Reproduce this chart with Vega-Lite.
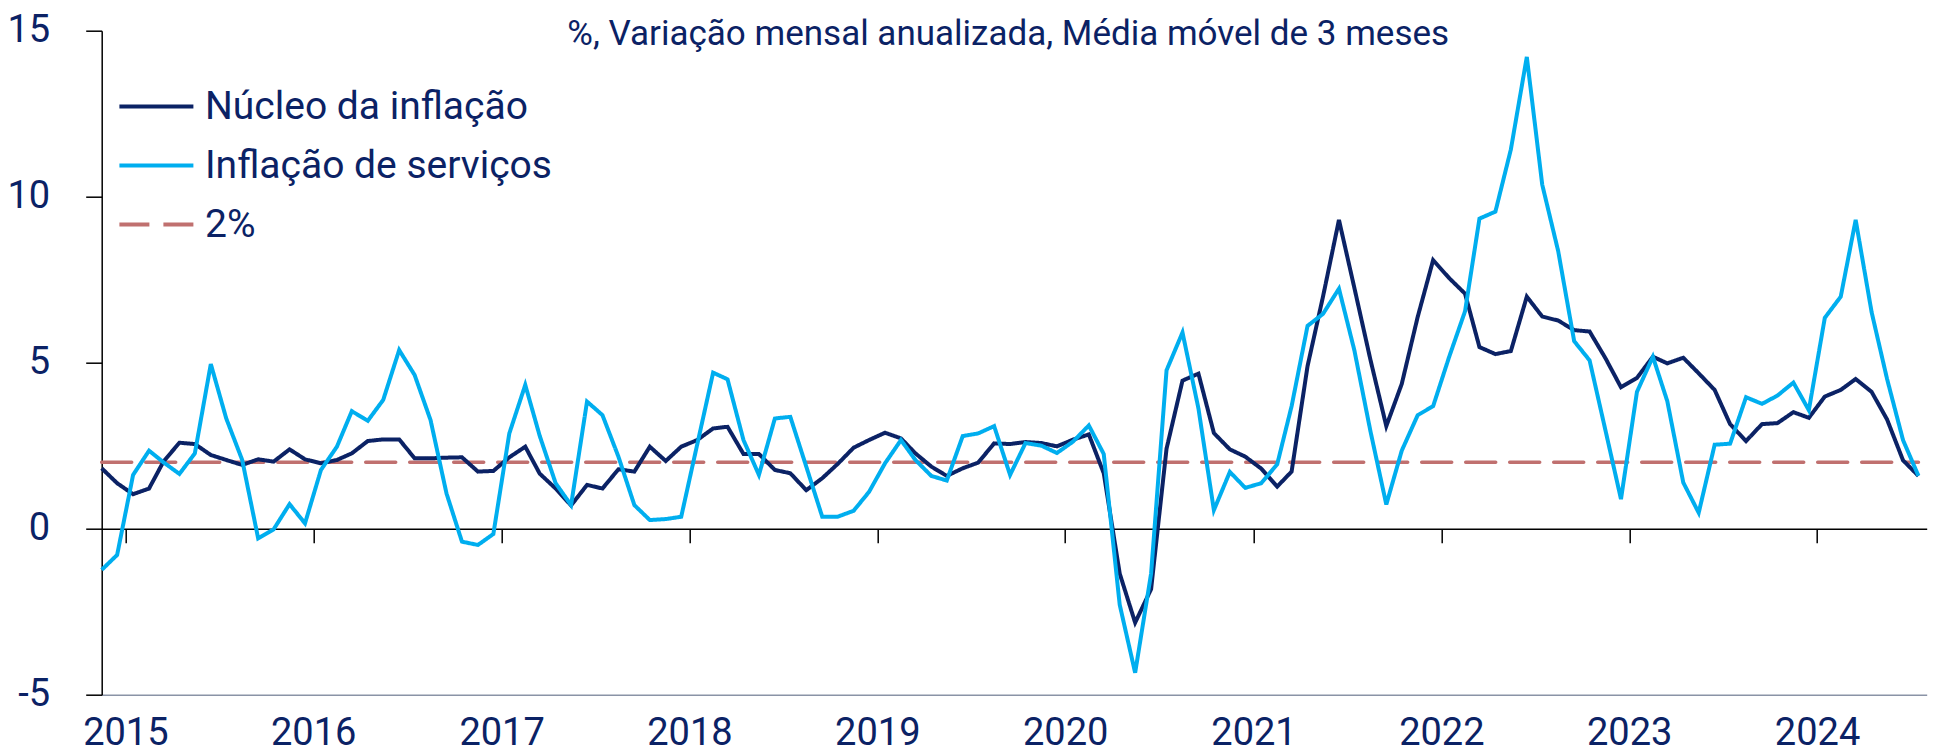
{
  "$schema": "https://vega.github.io/schema/vega-lite/v6.json",
  "width": 1825,
  "height": 664,
  "autosize": {"type": "none"},
  "padding": {"left": 101.7, "top": 30.7, "right": 14.3, "bottom": 58.3},
  "background": "white",
  "title": {
    "text": "%, Variação mensal anualizada, Média móvel de 3 meses",
    "font": "Roboto", "fontSize": 35, "fontWeight": "normal", "color": "#0b2265",
    "anchor": "middle", "frame": "group", "baseline": "alphabetic", "offset": 0, "dx": -6, "dy": 68
  },
  "config": {
    "view": {"stroke": null},
    "font": "Roboto",
    "axis": {"grid": false, "title": null, "labelFont": "Roboto", "labelColor": "#0b2265", "labelFontSize": 38},
    "legend": {
      "symbolType": "stroke", "symbolSize": 5476, "symbolStrokeWidth": 4,
      "labelFont": "Roboto", "labelFontSize": 39, "labelColor": "#0b2265", "labelOffset": 9.6,
      "rowPadding": -19, "padding": 0, "labelLimit": 600
    }
  },
  "data": {"values": [
    {"date": "2014-11-16", "nucleo": 1.82, "servicos": -1.24, "meta": 2},
    {"date": "2014-12-16", "nucleo": 1.37, "servicos": -0.79, "meta": 2},
    {"date": "2015-01-16", "nucleo": 1.04, "servicos": 1.62, "meta": 2},
    {"date": "2015-02-16", "nucleo": 1.21, "servicos": 2.35, "meta": 2},
    {"date": "2015-03-16", "nucleo": 2.02, "servicos": 2.0, "meta": 2},
    {"date": "2015-04-16", "nucleo": 2.59, "servicos": 1.65, "meta": 2},
    {"date": "2015-05-16", "nucleo": 2.55, "servicos": 2.27, "meta": 2},
    {"date": "2015-06-16", "nucleo": 2.22, "servicos": 4.96, "meta": 2},
    {"date": "2015-07-16", "nucleo": 2.07, "servicos": 3.32, "meta": 2},
    {"date": "2015-08-16", "nucleo": 1.92, "servicos": 2.07, "meta": 2},
    {"date": "2015-09-16", "nucleo": 2.09, "servicos": -0.29, "meta": 2},
    {"date": "2015-10-16", "nucleo": 2.02, "servicos": -0.02, "meta": 2},
    {"date": "2015-11-16", "nucleo": 2.39, "servicos": 0.74, "meta": 2},
    {"date": "2015-12-16", "nucleo": 2.09, "servicos": 0.16, "meta": 2},
    {"date": "2016-01-16", "nucleo": 1.97, "servicos": 1.77, "meta": 2},
    {"date": "2016-02-16", "nucleo": 2.07, "servicos": 2.47, "meta": 2},
    {"date": "2016-03-16", "nucleo": 2.27, "servicos": 3.54, "meta": 2},
    {"date": "2016-04-16", "nucleo": 2.64, "servicos": 3.25, "meta": 2},
    {"date": "2016-05-16", "nucleo": 2.69, "servicos": 3.88, "meta": 2},
    {"date": "2016-06-16", "nucleo": 2.69, "servicos": 5.38, "meta": 2},
    {"date": "2016-07-16", "nucleo": 2.12, "servicos": 4.63, "meta": 2},
    {"date": "2016-08-16", "nucleo": 2.12, "servicos": 3.27, "meta": 2},
    {"date": "2016-09-16", "nucleo": 2.14, "servicos": 1.06, "meta": 2},
    {"date": "2016-10-16", "nucleo": 2.15, "servicos": -0.39, "meta": 2},
    {"date": "2016-11-16", "nucleo": 1.72, "servicos": -0.49, "meta": 2},
    {"date": "2016-12-16", "nucleo": 1.74, "servicos": -0.16, "meta": 2},
    {"date": "2017-01-16", "nucleo": 2.15, "servicos": 2.87, "meta": 2},
    {"date": "2017-02-16", "nucleo": 2.47, "servicos": 4.33, "meta": 2},
    {"date": "2017-03-16", "nucleo": 1.66, "servicos": 2.8, "meta": 2},
    {"date": "2017-04-16", "nucleo": 1.21, "servicos": 1.37, "meta": 2},
    {"date": "2017-05-16", "nucleo": 0.70, "servicos": 0.71, "meta": 2},
    {"date": "2017-06-16", "nucleo": 1.32, "servicos": 3.83, "meta": 2},
    {"date": "2017-07-16", "nucleo": 1.21, "servicos": 3.42, "meta": 2},
    {"date": "2017-08-16", "nucleo": 1.79, "servicos": 2.17, "meta": 2},
    {"date": "2017-09-16", "nucleo": 1.72, "servicos": 0.71, "meta": 2},
    {"date": "2017-10-16", "nucleo": 2.47, "servicos": 0.26, "meta": 2},
    {"date": "2017-11-16", "nucleo": 2.04, "servicos": 0.29, "meta": 2},
    {"date": "2017-12-16", "nucleo": 2.47, "servicos": 0.36, "meta": 2},
    {"date": "2018-01-16", "nucleo": 2.67, "servicos": 2.53, "meta": 2},
    {"date": "2018-02-16", "nucleo": 3.02, "servicos": 4.70, "meta": 2},
    {"date": "2018-03-16", "nucleo": 3.07, "servicos": 4.50, "meta": 2},
    {"date": "2018-04-16", "nucleo": 2.25, "servicos": 2.67, "meta": 2},
    {"date": "2018-05-16", "nucleo": 2.25, "servicos": 1.62, "meta": 2},
    {"date": "2018-06-16", "nucleo": 1.77, "servicos": 3.32, "meta": 2},
    {"date": "2018-07-16", "nucleo": 1.67, "servicos": 3.37, "meta": 2},
    {"date": "2018-08-16", "nucleo": 1.16, "servicos": 1.87, "meta": 2},
    {"date": "2018-09-16", "nucleo": 1.52, "servicos": 0.36, "meta": 2},
    {"date": "2018-10-16", "nucleo": 1.95, "servicos": 0.36, "meta": 2},
    {"date": "2018-11-16", "nucleo": 2.44, "servicos": 0.54, "meta": 2},
    {"date": "2018-12-16", "nucleo": 2.67, "servicos": 1.11, "meta": 2},
    {"date": "2019-01-16", "nucleo": 2.89, "servicos": 1.97, "meta": 2},
    {"date": "2019-02-16", "nucleo": 2.72, "servicos": 2.67, "meta": 2},
    {"date": "2019-03-16", "nucleo": 2.27, "servicos": 2.07, "meta": 2},
    {"date": "2019-04-16", "nucleo": 1.87, "servicos": 1.59, "meta": 2},
    {"date": "2019-05-16", "nucleo": 1.59, "servicos": 1.45, "meta": 2},
    {"date": "2019-06-16", "nucleo": 1.82, "servicos": 2.79, "meta": 2},
    {"date": "2019-07-16", "nucleo": 1.99, "servicos": 2.87, "meta": 2},
    {"date": "2019-08-16", "nucleo": 2.57, "servicos": 3.09, "meta": 2},
    {"date": "2019-09-16", "nucleo": 2.55, "servicos": 1.62, "meta": 2},
    {"date": "2019-10-16", "nucleo": 2.61, "servicos": 2.58, "meta": 2},
    {"date": "2019-11-16", "nucleo": 2.58, "servicos": 2.50, "meta": 2},
    {"date": "2019-12-16", "nucleo": 2.48, "servicos": 2.28, "meta": 2},
    {"date": "2020-01-16", "nucleo": 2.68, "servicos": 2.62, "meta": 2},
    {"date": "2020-02-16", "nucleo": 2.84, "servicos": 3.11, "meta": 2},
    {"date": "2020-03-16", "nucleo": 1.67, "servicos": 2.25, "meta": 2},
    {"date": "2020-04-16", "nucleo": -1.35, "servicos": -2.29, "meta": 2},
    {"date": "2020-05-16", "nucleo": -2.83, "servicos": -4.34, "meta": 2},
    {"date": "2020-06-16", "nucleo": -1.82, "servicos": -1.35, "meta": 2},
    {"date": "2020-07-16", "nucleo": 2.41, "servicos": 4.77, "meta": 2},
    {"date": "2020-08-16", "nucleo": 4.46, "servicos": 5.91, "meta": 2},
    {"date": "2020-09-16", "nucleo": 4.67, "servicos": 3.62, "meta": 2},
    {"date": "2020-10-16", "nucleo": 2.88, "servicos": 0.56, "meta": 2},
    {"date": "2020-11-16", "nucleo": 2.39, "servicos": 1.71, "meta": 2},
    {"date": "2020-12-16", "nucleo": 2.17, "servicos": 1.23, "meta": 2},
    {"date": "2021-01-16", "nucleo": 1.81, "servicos": 1.37, "meta": 2},
    {"date": "2021-02-16", "nucleo": 1.27, "servicos": 1.94, "meta": 2},
    {"date": "2021-03-16", "nucleo": 1.72, "servicos": 3.69, "meta": 2},
    {"date": "2021-04-16", "nucleo": 4.90, "servicos": 6.11, "meta": 2},
    {"date": "2021-05-16", "nucleo": 6.99, "servicos": 6.47, "meta": 2},
    {"date": "2021-06-16", "nucleo": 9.30, "servicos": 7.23, "meta": 2},
    {"date": "2021-07-16", "nucleo": 7.25, "servicos": 5.37, "meta": 2},
    {"date": "2021-08-16", "nucleo": 5.10, "servicos": 2.95, "meta": 2},
    {"date": "2021-09-16", "nucleo": 3.09, "servicos": 0.73, "meta": 2},
    {"date": "2021-10-16", "nucleo": 4.36, "servicos": 2.35, "meta": 2},
    {"date": "2021-11-16", "nucleo": 6.38, "servicos": 3.42, "meta": 2},
    {"date": "2021-12-16", "nucleo": 8.09, "servicos": 3.69, "meta": 2},
    {"date": "2022-01-16", "nucleo": 7.55, "servicos": 5.17, "meta": 2},
    {"date": "2022-02-16", "nucleo": 7.08, "servicos": 6.55, "meta": 2},
    {"date": "2022-03-16", "nucleo": 5.47, "servicos": 9.34, "meta": 2},
    {"date": "2022-04-16", "nucleo": 5.26, "servicos": 9.55, "meta": 2},
    {"date": "2022-05-16", "nucleo": 5.35, "servicos": 11.42, "meta": 2},
    {"date": "2022-06-16", "nucleo": 6.99, "servicos": 14.21, "meta": 2},
    {"date": "2022-07-16", "nucleo": 6.39, "servicos": 10.36, "meta": 2},
    {"date": "2022-08-16", "nucleo": 6.27, "servicos": 8.36, "meta": 2},
    {"date": "2022-09-16", "nucleo": 5.98, "servicos": 5.65, "meta": 2},
    {"date": "2022-10-16", "nucleo": 5.94, "servicos": 5.07, "meta": 2},
    {"date": "2022-11-16", "nucleo": 5.13, "servicos": 2.95, "meta": 2},
    {"date": "2022-12-16", "nucleo": 4.26, "servicos": 0.89, "meta": 2},
    {"date": "2023-01-16", "nucleo": 4.54, "servicos": 4.12, "meta": 2},
    {"date": "2023-02-16", "nucleo": 5.18, "servicos": 5.18, "meta": 2},
    {"date": "2023-03-16", "nucleo": 4.98, "servicos": 3.84, "meta": 2},
    {"date": "2023-04-16", "nucleo": 5.15, "servicos": 1.39, "meta": 2},
    {"date": "2023-05-16", "nucleo": 4.68, "servicos": 0.48, "meta": 2},
    {"date": "2023-06-16", "nucleo": 4.18, "servicos": 2.53, "meta": 2},
    {"date": "2023-07-16", "nucleo": 3.15, "servicos": 2.56, "meta": 2},
    {"date": "2023-08-16", "nucleo": 2.64, "servicos": 3.96, "meta": 2},
    {"date": "2023-09-16", "nucleo": 3.15, "servicos": 3.76, "meta": 2},
    {"date": "2023-10-16", "nucleo": 3.18, "servicos": 4.01, "meta": 2},
    {"date": "2023-11-16", "nucleo": 3.51, "servicos": 4.40, "meta": 2},
    {"date": "2023-12-16", "nucleo": 3.34, "servicos": 3.57, "meta": 2},
    {"date": "2024-01-16", "nucleo": 3.98, "servicos": 6.35, "meta": 2},
    {"date": "2024-02-16", "nucleo": 4.18, "servicos": 6.99, "meta": 2},
    {"date": "2024-03-16", "nucleo": 4.51, "servicos": 9.30, "meta": 2},
    {"date": "2024-04-16", "nucleo": 4.12, "servicos": 6.52, "meta": 2},
    {"date": "2024-05-16", "nucleo": 3.29, "servicos": 4.51, "meta": 2},
    {"date": "2024-06-16", "nucleo": 2.06, "servicos": 2.67, "meta": 2},
    {"date": "2024-07-16", "nucleo": 1.59, "servicos": 1.59, "meta": 2}
  ]},
  "layer": [
    {
      "transform": [{"fold": ["meta"], "as": ["serie", "valor"]}],
      "mark": {"type": "line", "strokeWidth": 3.5, "strokeCap": "round"},
      "encoding": {
        "x": {
          "field": "date", "type": "temporal",
          "scale": {"type": "utc", "domain": [{"year": 2014, "month": 11, "date": 16, "utc": true}, {"year": 2024, "month": 8, "date": 1, "utc": true}]},
          "axis": {
            "orient": "bottom", "offset": -166, "labels": false, "ticks": true, "tickSize": 14,
            "tickColor": "#000000", "tickWidth": 1.5, "domainColor": "#000000", "domainWidth": 1.5,
            "title": null, "grid": false,
            "values": [
              {"year": 2015, "month": 1, "date": 1, "utc": true},
              {"year": 2016, "month": 1, "date": 1, "utc": true},
              {"year": 2017, "month": 1, "date": 1, "utc": true},
              {"year": 2018, "month": 1, "date": 1, "utc": true},
              {"year": 2019, "month": 1, "date": 1, "utc": true},
              {"year": 2020, "month": 1, "date": 1, "utc": true},
              {"year": 2021, "month": 1, "date": 1, "utc": true},
              {"year": 2022, "month": 1, "date": 1, "utc": true},
              {"year": 2023, "month": 1, "date": 1, "utc": true},
              {"year": 2024, "month": 1, "date": 1, "utc": true}
            ]
          }
        },
        "y": {
          "field": "valor", "type": "quantitative",
          "scale": {"domain": [-5, 15], "nice": false, "zero": false},
          "axis": {"tickCount": 5, "labelExpr": "toString(datum.value)", "domainColor": "#000000", "domainWidth": 1.5, "tickColor": "#000000", "tickWidth": 1.5, "tickSize": 16, "labelPadding": 36, "title": null, "grid": false}
        },
        "color": {
          "field": "serie", "type": "nominal",
          "scale": {"domain": ["nucleo", "servicos", "meta"], "range": ["#0b2265", "#00aeef", "#c0706f"]},
          "legend": {"orient": "none", "legendX": 15.7, "legendY": 36.8, "title": null,
            "labelExpr": "datum.label == 'nucleo' ? 'Núcleo da inflação' : datum.label == 'servicos' ? 'Inflação de serviços' : '2%'"}
        },
        "strokeDash": {
          "field": "serie", "type": "nominal",
          "scale": {"domain": ["nucleo", "servicos", "meta"], "range": [[1, 0], [1, 0], [30, 14]]},
          "legend": {"orient": "none", "legendX": 15.7, "legendY": 36.8, "title": null,
            "labelExpr": "datum.label == 'nucleo' ? 'Núcleo da inflação' : datum.label == 'servicos' ? 'Inflação de serviços' : '2%'"}
        }
      }
    },
    {
      "transform": [{"fold": ["nucleo", "servicos"], "as": ["serie", "valor"]}],
      "mark": {"type": "line", "strokeWidth": 4},
      "encoding": {
        "x": {
          "field": "date", "type": "temporal",
          "scale": {"type": "utc", "domain": [{"year": 2014, "month": 11, "date": 16, "utc": true}, {"year": 2024, "month": 8, "date": 1, "utc": true}]},
          "axis": {
            "orient": "bottom", "offset": 0, "ticks": false, "tickSize": 0, "labelPadding": 20,
            "domainColor": "#8a93a6", "domainWidth": 1.5, "format": "%Y", "formatType": "utc",
            "title": null, "grid": false,
            "values": [
              {"year": 2015, "month": 1, "date": 1, "utc": true},
              {"year": 2016, "month": 1, "date": 1, "utc": true},
              {"year": 2017, "month": 1, "date": 1, "utc": true},
              {"year": 2018, "month": 1, "date": 1, "utc": true},
              {"year": 2019, "month": 1, "date": 1, "utc": true},
              {"year": 2020, "month": 1, "date": 1, "utc": true},
              {"year": 2021, "month": 1, "date": 1, "utc": true},
              {"year": 2022, "month": 1, "date": 1, "utc": true},
              {"year": 2023, "month": 1, "date": 1, "utc": true},
              {"year": 2024, "month": 1, "date": 1, "utc": true}
            ]
          }
        },
        "y": {
          "field": "valor", "type": "quantitative",
          "scale": {"domain": [-5, 15], "nice": false, "zero": false},
          "axis": {"tickCount": 5, "labelExpr": "toString(datum.value)", "domainColor": "#000000", "domainWidth": 1.5, "tickColor": "#000000", "tickWidth": 1.5, "tickSize": 16, "labelPadding": 36, "title": null, "grid": false}
        },
        "color": {
          "field": "serie", "type": "nominal",
          "scale": {"domain": ["nucleo", "servicos", "meta"], "range": ["#0b2265", "#00aeef", "#c0706f"]},
          "legend": {"orient": "none", "legendX": 15.7, "legendY": 36.8, "title": null,
            "labelExpr": "datum.label == 'nucleo' ? 'Núcleo da inflação' : datum.label == 'servicos' ? 'Inflação de serviços' : '2%'"}
        },
        "strokeDash": {
          "field": "serie", "type": "nominal",
          "scale": {"domain": ["nucleo", "servicos", "meta"], "range": [[1, 0], [1, 0], [30, 14]]},
          "legend": {"orient": "none", "legendX": 15.7, "legendY": 36.8, "title": null,
            "labelExpr": "datum.label == 'nucleo' ? 'Núcleo da inflação' : datum.label == 'servicos' ? 'Inflação de serviços' : '2%'"}
        }
      }
    }
  ],
  "resolve": {"axis": {"x": "independent"}}
}
